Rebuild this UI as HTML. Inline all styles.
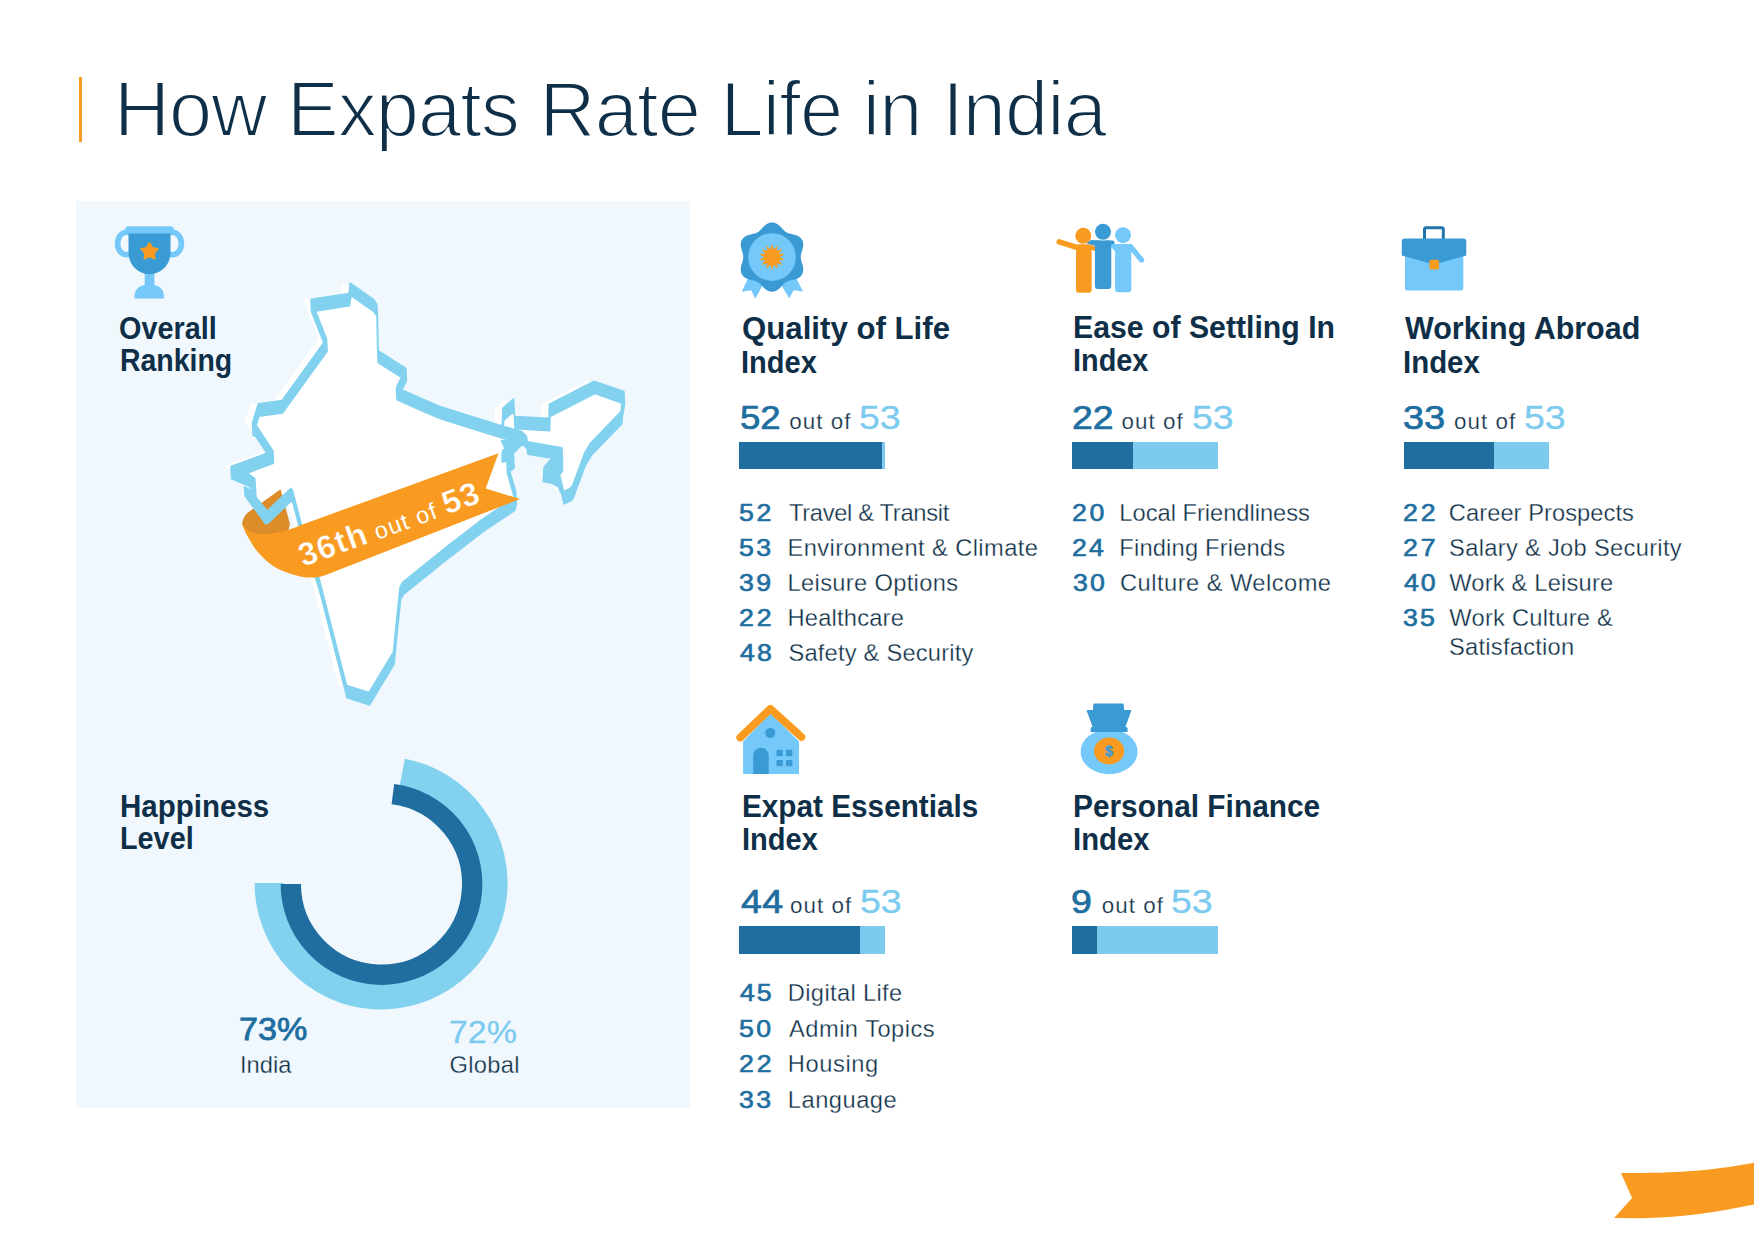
<!DOCTYPE html>
<html lang="en">
<head>
<meta charset="utf-8">
<title>How Expats Rate Life in India</title>
<style>
html,body{margin:0;padding:0;background:#fff}
body{position:relative;width:1754px;height:1240px;overflow:hidden;font-family:"Liberation Sans",sans-serif;color:#0e2f47}
h1,h2,p,ul,li{margin:0;padding:0;font-weight:normal;font-size:inherit;list-style:none}
.t{position:absolute;white-space:nowrap;line-height:1;display:block;transform-origin:0 0}
.abs{position:absolute}
svg{position:absolute;overflow:visible}
.panel{position:absolute;left:76px;top:200.5px;width:614px;height:907.5px;background:#f0f8fe}
.bar{position:absolute;background:#7ccbef}
.bar i{position:absolute;left:0;top:0;height:100%;background:#206ea0;display:block}
</style>
</head>
<body>
<header><div class="abs" style="left:79px;top:76.7px;width:2.8px;height:65px;background:#f99b20"></div><h1><span class="t" style="left:113.95px;top:71.00px;font-size:77.50px;letter-spacing:-0.850px;color:#0e2f47;-webkit-text-stroke:2.0px #fff;">How Expats Rate Life in India</span></h1></header>
<aside id="summary"><div class="panel"></div>
<section id="overall"><svg style="left:110px;top:220px" width="80" height="85" viewBox="110 220 80 85" aria-hidden="true"><ellipse cx="126.6" cy="243.5" rx="9" ry="11.3" fill="none" stroke="#74c8fa" stroke-width="5.6"/><ellipse cx="172.4" cy="243.5" rx="9" ry="11.3" fill="none" stroke="#74c8fa" stroke-width="5.6"/><rect x="144.7" y="270" width="9.7" height="18" fill="#74c8fa"/><path d="M134.5,298.4 L134.5,296.5 C134.5,288 141,284.4 149.3,284.4 C157.5,284.4 164,288 164,296.5 L164,298.4 Z" fill="#74c8fa"/><path d="M128.5,232 L170.5,232 L170.5,252 C170.5,267 158.5,274.2 149.5,274.2 C140.5,274.2 128.5,267 128.5,252 Z" fill="#3a9ad4"/><rect x="125.3" y="226.3" width="48.4" height="7.2" rx="3.2" fill="#74c8fa"/><polygon points="149.50,243.00 152.20,247.88 157.68,248.94 153.87,253.02 154.55,258.56 149.50,256.20 144.45,258.56 145.13,253.02 141.32,248.94 146.80,247.88" fill="#f99b20" stroke="#f99b20" stroke-width="2" stroke-linejoin="round"/></svg><h2><span class="t" style="left:119.40px;top:313.00px;font-size:31.40px;letter-spacing:0.000px;color:#0e2f47;font-weight:700;transform:scaleX(0.9176);">Overall</span><span class="t" style="left:120.02px;top:345.00px;font-size:31.40px;letter-spacing:0.000px;color:#0e2f47;font-weight:700;transform:scaleX(0.9058);">Ranking</span></h2><svg style="left:222px;top:276px" width="410" height="432" viewBox="222 276 410 432" aria-hidden="true"><polygon points="303.0,299.4 341.0,293.5 342.3,283.2 365.5,299.4 368.8,304.5 369.7,350.3 397.8,368.4 388.5,387.5 412.0,398.0 432.0,406.5 462.0,416.0 494.3,426.0 495.0,408.0 505.5,399.0 506.5,416.5 541.0,418.4 541.4,404.2 586.2,381.3 615.9,391.6 613.5,406.0 613.3,411.3 582.5,443.2 576.5,453.5 564.5,486.0 561.9,488.5 555.5,491.6 550.8,471.2 546.8,469.4 553.9,458.3 553.9,447.7 519.3,441.9 518.4,436.1 513.9,431.7 504.2,441.5 505.5,455.7 498.9,461.0 507.7,492.0 506.2,498.0 475.2,518.7 434.6,550.0 394.6,582.3 392.0,587.4 388.1,624.8 385.5,651.9 361.0,692.6 338.5,685.5 310.7,577.1 293.9,526.5 284.3,490.3 283.0,488.4 259.1,511.0 244.9,493.5 247.5,489.0 246.8,478.7 239.7,473.5 223.0,466.5 264.9,451.0 247.5,424.5 244.5,423.0 250.3,403.9 274.0,400.6 318.5,339.0" fill="#fff"/><polygon points="311.0,299.4 349.0,293.5 350.3,283.2 373.5,299.4 376.8,304.5 377.7,350.3 405.8,368.4 396.5,387.5 420.0,398.0 440.0,406.5 470.0,416.0 502.3,426.0 503.0,408.0 513.5,399.0 514.5,416.5 549.0,418.4 549.4,404.2 594.2,381.3 623.9,391.6 621.5,406.0 621.3,411.3 590.5,443.2 584.5,453.5 572.5,486.0 569.9,488.5 563.5,491.6 558.8,471.2 554.8,469.4 561.9,458.3 561.9,447.7 527.3,441.9 526.4,436.1 521.9,431.7 512.2,441.5 513.5,455.7 506.9,461.0 515.7,492.0 514.2,498.0 483.2,518.7 442.6,550.0 402.6,582.3 400.0,587.4 396.1,624.8 393.5,651.9 369.0,692.6 346.5,685.5 318.7,577.1 301.9,526.5 292.3,490.3 291.0,488.4 267.1,511.0 252.9,493.5 255.5,489.0 254.8,478.7 247.7,473.5 231.0,466.5 272.9,451.0 255.5,424.5 252.5,423.0 258.3,403.9 282.0,400.6 326.5,339.0" fill="#fff"/><path d="M242,523.8 C243,518 245,515 248,512.5 L280.5,489.3 L289.9,523.8 L288,533 C275,536.5 264,538 255.7,536 C249,534 244,529 242,523.8 Z" fill="#dc8c28"/><path d="M311.0,299.4L349.0,293.5L349.6,305.8L311.6,311.7ZM349.0,293.5L350.3,283.2L350.9,295.5L349.6,305.8ZM350.3,283.2L373.5,299.4L374.1,311.7L350.9,295.5ZM373.5,299.4L376.8,304.5L377.4,316.8L374.1,311.7ZM377.4,316.8L378.3,362.6L377.7,350.3L376.8,304.5ZM377.7,350.3L405.8,368.4L406.4,380.7L378.3,362.6ZM406.4,380.7L397.1,399.8L396.5,387.5L405.8,368.4ZM396.5,387.5L420.0,398.0L420.6,410.3L397.1,399.8ZM420.0,398.0L440.0,406.5L440.6,418.8L420.6,410.3ZM440.0,406.5L470.0,416.0L470.6,428.3L440.6,418.8ZM470.0,416.0L502.3,426.0L502.9,438.3L470.6,428.3ZM502.3,426.0L503.0,408.0L503.6,420.3L502.9,438.3ZM503.0,408.0L513.5,399.0L514.1,411.3L503.6,420.3ZM513.5,399.0L514.5,416.5L515.1,428.8L514.1,411.3ZM514.5,416.5L549.0,418.4L549.6,430.7L515.1,428.8ZM549.0,418.4L549.4,404.2L550.0,416.5L549.6,430.7ZM549.4,404.2L594.2,381.3L594.8,393.6L550.0,416.5ZM594.2,381.3L623.9,391.6L624.5,403.9L594.8,393.6ZM624.5,403.9L622.1,418.3L621.5,406.0L623.9,391.6ZM622.1,418.3L621.9,423.6L621.3,411.3L621.5,406.0ZM621.9,423.6L591.1,455.5L590.5,443.2L621.3,411.3ZM591.1,455.5L585.1,465.8L584.5,453.5L590.5,443.2ZM585.1,465.8L573.1,498.3L572.5,486.0L584.5,453.5ZM573.1,498.3L570.5,500.8L569.9,488.5L572.5,486.0ZM570.5,500.8L564.1,503.9L563.5,491.6L569.9,488.5ZM564.1,503.9L559.4,483.5L558.8,471.2L563.5,491.6ZM559.4,483.5L555.4,481.7L554.8,469.4L558.8,471.2ZM554.8,469.4L561.9,458.3L562.5,470.6L555.4,481.7ZM561.9,458.3L561.9,447.7L562.5,460.0L562.5,470.6ZM562.5,460.0L527.9,454.2L527.3,441.9L561.9,447.7ZM527.9,454.2L527.0,448.4L526.4,436.1L527.3,441.9ZM527.0,448.4L522.5,444.0L521.9,431.7L526.4,436.1ZM522.5,444.0L512.8,453.8L512.2,441.5L521.9,431.7ZM512.2,441.5L513.5,455.7L514.1,468.0L512.8,453.8ZM514.1,468.0L507.5,473.3L506.9,461.0L513.5,455.7ZM506.9,461.0L515.7,492.0L516.3,504.3L507.5,473.3ZM516.3,504.3L514.8,510.3L514.2,498.0L515.7,492.0ZM514.8,510.3L483.8,531.0L483.2,518.7L514.2,498.0ZM483.8,531.0L443.2,562.3L442.6,550.0L483.2,518.7ZM443.2,562.3L403.2,594.6L402.6,582.3L442.6,550.0ZM403.2,594.6L400.6,599.7L400.0,587.4L402.6,582.3ZM400.6,599.7L396.7,637.1L396.1,624.8L400.0,587.4ZM396.7,637.1L394.1,664.2L393.5,651.9L396.1,624.8ZM394.1,664.2L369.6,704.9L369.0,692.6L393.5,651.9ZM369.6,704.9L347.1,697.8L346.5,685.5L369.0,692.6ZM347.1,697.8L319.3,589.4L318.7,577.1L346.5,685.5ZM319.3,589.4L302.5,538.8L301.9,526.5L318.7,577.1ZM302.5,538.8L292.9,502.6L292.3,490.3L301.9,526.5ZM292.9,502.6L291.6,500.7L291.0,488.4L292.3,490.3ZM291.6,500.7L267.7,523.3L267.1,511.0L291.0,488.4ZM267.7,523.3L253.5,505.8L252.9,493.5L267.1,511.0ZM252.9,493.5L255.5,489.0L256.1,501.3L253.5,505.8ZM256.1,501.3L255.4,491.0L254.8,478.7L255.5,489.0ZM255.4,491.0L248.3,485.8L247.7,473.5L254.8,478.7ZM248.3,485.8L231.6,478.8L231.0,466.5L247.7,473.5ZM231.0,466.5L272.9,451.0L273.5,463.3L231.6,478.8ZM273.5,463.3L256.1,436.8L255.5,424.5L272.9,451.0ZM256.1,436.8L253.1,435.3L252.5,423.0L255.5,424.5ZM252.5,423.0L258.3,403.9L258.9,416.2L253.1,435.3ZM258.3,403.9L282.0,400.6L282.6,412.9L258.9,416.2ZM282.0,400.6L326.5,339.0L327.1,351.3L282.6,412.9ZM327.1,351.3L311.6,311.7L311.0,299.4L326.5,339.0ZM502.3,426L521.9,431.7L522.5,444.0L502.90000000000003,438.3ZM501.5,440.6L512.2,441.5L513.5,455.7L506.9,461L502,461.9L502.4,451.2L505.1,448.6ZM244.5,487.1L245.2,496.1L265.8,523.9L267.7,521.9L253.5,503.9L252.9,491ZM550.3,460.1L561.9,458.3L554.8,469.4L558.8,471.2L563.6,491.6L561,492.9L558.3,486.7L552.1,483.2L543.2,481.4L544.1,467.2Z" fill="#82d2ef" stroke="#82d2ef" stroke-width="1.6" stroke-linejoin="round" fill-rule="nonzero"/><path d="M242,523.8 C245,529 250,532.5 255.7,533.6 C266,535.5 278,533 286.4,530.6 C292,529 297,526.6 301.8,524.7 L498.5,453.3 L485.7,488.4 L519.9,499 L325.8,575.1 C316,578.6 307,578 298.4,576 C288,573.5 279,570 272.8,565.7 C264,559.5 257,552 252.2,544.3 C248,537.5 244,530.5 242,523.8 Z" fill="#f99b20"/><text transform="translate(303.2,567.0) rotate(-20)" font-family="Liberation Sans, sans-serif" fill="#fff" textLength="190" lengthAdjust="spacing"><tspan font-weight="700" font-size="32.5" stroke="#f99b20" stroke-width="0.45">36th</tspan><tspan font-size="23.5"> out of </tspan><tspan font-weight="700" font-size="32.5" stroke="#f99b20" stroke-width="0.45">53</tspan></text></svg></section>
<section id="happiness"><h2><span class="t" style="left:119.95px;top:791.00px;font-size:31.70px;letter-spacing:0.000px;color:#0e2f47;font-weight:700;transform:scaleX(0.9316);">Happiness</span><span class="t" style="left:120.00px;top:823.00px;font-size:31.70px;letter-spacing:0.000px;color:#0e2f47;font-weight:700;transform:scaleX(0.9092);">Level</span></h2><svg style="left:250px;top:750px" width="265" height="265" viewBox="250 750 265 265" aria-hidden="true"><path d="M269.10,883.00 A112.0,112.0 0 1 0 402.09,772.98" fill="none" stroke="#82d2ef" stroke-width="29.0"/><path d="M290.80,884.00 A90.7,90.7 0 1 0 392.87,794.02" fill="none" stroke="#206ea0" stroke-width="20.4"/></svg><p><span class="t" style="left:238.50px;top:1013.00px;font-size:32.00px;letter-spacing:0.000px;color:#206ea0;-webkit-text-stroke:0.8px #206ea0;transform:scaleX(1.0667);">73%</span><span class="t" style="left:240.05px;top:1054.00px;font-size:23.70px;letter-spacing:-0.028px;color:#0e2f47;-webkit-text-stroke:0.3px #f0f8fe;">India</span></p><p><span class="t" style="left:448.71px;top:1016.00px;font-size:32.00px;letter-spacing:0.000px;color:#7ccbef;-webkit-text-stroke:0.3px #7ccbef;transform:scaleX(1.0602);">72%</span><span class="t" style="left:449.55px;top:1054.00px;font-size:23.70px;letter-spacing:0.292px;color:#0e2f47;-webkit-text-stroke:0.3px #f0f8fe;">Global</span></p></section></aside>
<main>
<section id="qol"><svg style="left:735px;top:218px" width="75" height="85" viewBox="735 218 75 85" aria-hidden="true"><polygon points="749.2,276 741.7,291.7 751.2,290.2 755.2,298.7 764,283" fill="#74c8fa"/><polygon points="795.2,276 803,291.5 793.6,290.2 789.3,298.5 780,283" fill="#74c8fa"/><polygon points="800.70,257.10 800.81,255.59 801.11,254.04 801.57,252.42 802.10,250.70 802.62,248.90 803.03,247.02 803.24,245.11 803.18,243.22 802.79,241.41 802.05,239.75 800.98,238.28 799.61,237.04 798.01,236.04 796.25,235.27 794.42,234.68 792.59,234.23 790.84,233.83 789.21,233.42 787.71,232.91 786.35,232.25 785.10,231.40 783.91,230.36 782.73,229.15 781.51,227.83 780.20,226.48 778.78,225.19 777.23,224.05 775.57,223.16 773.81,222.59 772.00,222.40 770.19,222.59 768.43,223.16 766.77,224.05 765.22,225.19 763.80,226.48 762.49,227.83 761.27,229.15 760.09,230.36 758.90,231.40 757.65,232.25 756.29,232.91 754.79,233.42 753.16,233.83 751.41,234.23 749.58,234.68 747.75,235.27 745.99,236.04 744.39,237.04 743.02,238.28 741.95,239.75 741.21,241.41 740.82,243.22 740.76,245.11 740.97,247.02 741.38,248.90 741.90,250.70 742.43,252.42 742.89,254.04 743.19,255.59 743.30,257.10 743.19,258.61 742.89,260.16 742.43,261.78 741.90,263.50 741.38,265.30 740.97,267.18 740.76,269.09 740.82,270.98 741.21,272.79 741.95,274.45 743.02,275.92 744.39,277.16 745.99,278.16 747.75,278.93 749.58,279.52 751.41,279.97 753.16,280.37 754.79,280.78 756.29,281.29 757.65,281.95 758.90,282.80 760.09,283.84 761.27,285.05 762.49,286.37 763.80,287.72 765.22,289.01 766.77,290.15 768.43,291.04 770.19,291.61 772.00,291.80 773.81,291.61 775.57,291.04 777.23,290.15 778.78,289.01 780.20,287.72 781.51,286.37 782.73,285.05 783.91,283.84 785.10,282.80 786.35,281.95 787.71,281.29 789.21,280.78 790.84,280.37 792.59,279.97 794.42,279.52 796.25,278.93 798.01,278.16 799.61,277.16 800.98,275.92 802.05,274.45 802.79,272.79 803.18,270.98 803.24,269.09 803.03,267.18 802.62,265.30 802.10,263.50 801.57,261.78 801.11,260.16 800.81,258.61" fill="#3a9ad4"/><circle cx="772.0" cy="257.1" r="23.8" fill="#74c8fa"/><polygon points="772.00,243.90 773.74,249.50 777.73,245.21 776.86,251.00 782.32,248.87 779.03,253.72 784.87,254.16 779.80,257.10 784.87,260.04 779.03,260.48 782.32,265.33 776.86,263.20 777.73,268.99 773.74,264.70 772.00,270.30 770.26,264.70 766.27,268.99 767.14,263.20 761.68,265.33 764.97,260.48 759.13,260.04 764.20,257.10 759.13,254.16 764.97,253.72 761.68,248.87 767.14,251.00 766.27,245.21 770.26,249.50" fill="#f99b20"/></svg><h2><span class="t" style="left:741.52px;top:313.00px;font-size:31.10px;letter-spacing:0.000px;color:#0e2f47;font-weight:700;transform:scaleX(1.0034);">Quality of Life</span><span class="t" style="left:741.09px;top:347.00px;font-size:31.10px;letter-spacing:0.000px;color:#0e2f47;font-weight:700;transform:scaleX(0.9336);">Index</span></h2><p><span class="t" style="left:740.36px;top:402.00px;font-size:32.40px;letter-spacing:0.000px;color:#206ea0;-webkit-text-stroke:0.7px #206ea0;transform:scaleX(1.1272);">52</span><span class="t" style="left:789.18px;top:411.00px;font-size:22.40px;letter-spacing:1.046px;color:#0e2f47;-webkit-text-stroke:0.25px #fff;">out of</span><span class="t" style="left:858.83px;top:402.00px;font-size:32.40px;letter-spacing:0.000px;color:#7ccbef;-webkit-text-stroke:0.3px #7ccbef;transform:scaleX(1.1568);">53</span></p><div class="bar" style="left:739px;top:442px;width:146px;height:27px"><i style="width:143.2px"></i></div><ul><li><span class="t" style="left:739.36px;top:502.00px;font-size:23.00px;letter-spacing:2.271px;color:#206ea0;-webkit-text-stroke:0.6px #206ea0;transform:scaleX(1.1600);">52</span><span class="t" style="left:788.95px;top:502.00px;font-size:23.70px;letter-spacing:-0.314px;color:#0e2f47;-webkit-text-stroke:0.3px #fff;">Travel &amp; Transit</span></li><li><span class="t" style="left:739.36px;top:537.00px;font-size:23.00px;letter-spacing:2.171px;color:#206ea0;-webkit-text-stroke:0.6px #206ea0;transform:scaleX(1.1600);">53</span><span class="t" style="left:787.55px;top:537.00px;font-size:23.70px;letter-spacing:0.406px;color:#0e2f47;-webkit-text-stroke:0.3px #fff;">Environment &amp; Climate</span></li><li><span class="t" style="left:739.47px;top:572.00px;font-size:23.00px;letter-spacing:2.071px;color:#206ea0;-webkit-text-stroke:0.6px #206ea0;transform:scaleX(1.1600);">39</span><span class="t" style="left:787.55px;top:572.00px;font-size:23.70px;letter-spacing:0.326px;color:#0e2f47;-webkit-text-stroke:0.3px #fff;">Leisure Options</span></li><li><span class="t" style="left:739.12px;top:607.00px;font-size:23.00px;letter-spacing:2.471px;color:#206ea0;-webkit-text-stroke:0.6px #206ea0;transform:scaleX(1.1600);">22</span><span class="t" style="left:787.55px;top:607.00px;font-size:23.70px;letter-spacing:0.197px;color:#0e2f47;-webkit-text-stroke:0.3px #fff;">Healthcare</span></li><li><span class="t" style="left:739.82px;top:642.00px;font-size:23.00px;letter-spacing:1.771px;color:#206ea0;-webkit-text-stroke:0.6px #206ea0;transform:scaleX(1.1600);">48</span><span class="t" style="left:788.45px;top:642.00px;font-size:23.70px;letter-spacing:0.205px;color:#0e2f47;-webkit-text-stroke:0.3px #fff;">Safety &amp; Security</span></li></ul></section>
<section id="ease"><svg style="left:1052px;top:220px" width="95" height="78" viewBox="1052 220 95 78" aria-hidden="true"><g fill="#f99b20" stroke="#f99b20"><circle cx="1083.3" cy="235.8" r="8" stroke="none"/><rect x="1076" y="244.3" width="15.6" height="48.4" rx="3" stroke="none"/><polygon points="1090,244.3 1095.5,246.4 1095.5,251 1090,249.4" stroke="none"/><path d="M1080,248.3 L1059.2,241.8" fill="none" stroke-width="5.4" stroke-linecap="round"/></g><g fill="#3a9ad4"><circle cx="1103" cy="231.8" r="8"/><polygon points="1086.4,243.2 1091.2,239.9 1101,240.4 1096,246"/><rect x="1094.9" y="240.4" width="16.4" height="48.6" rx="3"/><rect x="1104" y="240.4" width="10.5" height="6" rx="2"/></g><g fill="#74c8fa" stroke="#74c8fa"><circle cx="1123" cy="235.2" r="8" stroke="none"/><rect x="1115.1" y="244" width="16.2" height="48.3" rx="3" stroke="none"/><polygon points="1111.3,244.1 1117,244.1 1117,253 1111.3,247.4" stroke="none"/><path d="M1130.3,246.4 L1141.6,260" fill="none" stroke-width="5.2" stroke-linecap="round"/></g></svg><h2><span class="t" style="left:1072.71px;top:312.00px;font-size:31.10px;letter-spacing:0.000px;color:#0e2f47;font-weight:700;transform:scaleX(0.9721);">Ease of Settling In</span><span class="t" style="left:1073.20px;top:345.00px;font-size:31.10px;letter-spacing:0.000px;color:#0e2f47;font-weight:700;transform:scaleX(0.9285);">Index</span></h2><p><span class="t" style="left:1072.05px;top:402.00px;font-size:32.40px;letter-spacing:0.000px;color:#206ea0;-webkit-text-stroke:0.7px #206ea0;transform:scaleX(1.1534);">22</span><span class="t" style="left:1121.57px;top:411.00px;font-size:22.40px;letter-spacing:1.046px;color:#0e2f47;-webkit-text-stroke:0.25px #fff;">out of</span><span class="t" style="left:1192.33px;top:402.00px;font-size:32.40px;letter-spacing:0.000px;color:#7ccbef;-webkit-text-stroke:0.3px #7ccbef;transform:scaleX(1.1568);">53</span></p><div class="bar" style="left:1072px;top:442px;width:146px;height:27px"><i style="width:60.6px"></i></div><ul><li><span class="t" style="left:1072.22px;top:502.00px;font-size:23.00px;letter-spacing:2.271px;color:#206ea0;-webkit-text-stroke:0.6px #206ea0;transform:scaleX(1.1600);">20</span><span class="t" style="left:1119.35px;top:502.00px;font-size:23.70px;letter-spacing:-0.021px;color:#0e2f47;-webkit-text-stroke:0.3px #fff;">Local Friendliness</span></li><li><span class="t" style="left:1072.22px;top:537.00px;font-size:23.00px;letter-spacing:1.971px;color:#206ea0;-webkit-text-stroke:0.6px #206ea0;transform:scaleX(1.1600);">24</span><span class="t" style="left:1119.35px;top:537.00px;font-size:23.70px;letter-spacing:0.172px;color:#0e2f47;-webkit-text-stroke:0.3px #fff;">Finding Friends</span></li><li><span class="t" style="left:1072.57px;top:572.00px;font-size:23.00px;letter-spacing:1.971px;color:#206ea0;-webkit-text-stroke:0.6px #206ea0;transform:scaleX(1.1600);">30</span><span class="t" style="left:1120.05px;top:572.00px;font-size:23.70px;letter-spacing:0.460px;color:#0e2f47;-webkit-text-stroke:0.3px #fff;">Culture &amp; Welcome</span></li></ul></section>
<section id="work"><svg style="left:1398px;top:222px" width="72" height="72" viewBox="1398 222 72 72" aria-hidden="true"><rect x="1424.5" y="227.7" width="18.8" height="14" rx="1.5" fill="none" stroke="#2273a8" stroke-width="3"/><rect x="1405" y="248" width="58.3" height="42.6" rx="2" fill="#74c8fa"/><path d="M1401.8,241.4 Q1401.8,238.6 1404.6,238.6 L1463.5,238.6 Q1466.3,238.6 1466.3,241.4 L1466.3,255.6 L1434.2,264.6 L1401.8,255.6 Z" fill="#3a9ad4"/><rect x="1429.4" y="259.8" width="9.7" height="9.7" rx="2" fill="#f99b20"/></svg><h2><span class="t" style="left:1404.60px;top:313.00px;font-size:31.10px;letter-spacing:0.000px;color:#0e2f47;font-weight:700;transform:scaleX(0.9798);">Working Abroad</span><span class="t" style="left:1403.36px;top:347.00px;font-size:31.10px;letter-spacing:0.000px;color:#0e2f47;font-weight:700;transform:scaleX(0.9461);">Index</span></h2><p><span class="t" style="left:1403.43px;top:402.00px;font-size:32.40px;letter-spacing:0.339px;color:#206ea0;-webkit-text-stroke:0.7px #206ea0;transform:scaleX(1.1600);">33</span><span class="t" style="left:1453.97px;top:411.00px;font-size:22.40px;letter-spacing:1.046px;color:#0e2f47;-webkit-text-stroke:0.25px #fff;">out of</span><span class="t" style="left:1523.73px;top:402.00px;font-size:32.40px;letter-spacing:0.000px;color:#7ccbef;-webkit-text-stroke:0.3px #7ccbef;transform:scaleX(1.1568);">53</span></p><div class="bar" style="left:1404px;top:442px;width:145px;height:27px"><i style="width:90.3px"></i></div><ul><li><span class="t" style="left:1403.02px;top:502.00px;font-size:23.00px;letter-spacing:2.471px;color:#206ea0;-webkit-text-stroke:0.6px #206ea0;transform:scaleX(1.1600);">22</span><span class="t" style="left:1448.85px;top:502.00px;font-size:23.70px;letter-spacing:0.050px;color:#0e2f47;-webkit-text-stroke:0.3px #fff;">Career Prospects</span></li><li><span class="t" style="left:1403.02px;top:537.00px;font-size:23.00px;letter-spacing:2.471px;color:#206ea0;-webkit-text-stroke:0.6px #206ea0;transform:scaleX(1.1600);">27</span><span class="t" style="left:1449.05px;top:537.00px;font-size:23.70px;letter-spacing:0.309px;color:#0e2f47;-webkit-text-stroke:0.3px #fff;">Salary &amp; Job Security</span></li><li><span class="t" style="left:1403.72px;top:572.00px;font-size:23.00px;letter-spacing:1.671px;color:#206ea0;-webkit-text-stroke:0.6px #206ea0;transform:scaleX(1.1600);">40</span><span class="t" style="left:1449.25px;top:572.00px;font-size:23.70px;letter-spacing:0.185px;color:#0e2f47;-webkit-text-stroke:0.3px #fff;">Work &amp; Leisure</span></li><li><span class="t" style="left:1403.37px;top:607.00px;font-size:23.00px;letter-spacing:1.971px;color:#206ea0;-webkit-text-stroke:0.6px #206ea0;transform:scaleX(1.1600);">35</span><span class="t" style="left:1449.25px;top:607.00px;font-size:23.70px;letter-spacing:0.267px;color:#0e2f47;-webkit-text-stroke:0.3px #fff;">Work Culture &amp;</span></li><li><span class="t" style="left:1449.05px;top:636.00px;font-size:23.70px;letter-spacing:0.242px;color:#0e2f47;-webkit-text-stroke:0.3px #fff;">Satisfaction</span></li></ul></section>
<section id="ess"><svg style="left:732px;top:700px" width="80" height="78" viewBox="732 700 80 78" aria-hidden="true"><polygon points="770.3,713 799,741.5 799,774 743.1,774 743.1,741.5" fill="#74c8fa"/><circle cx="770.3" cy="732.9" r="5" fill="#3a9ad4"/><path d="M753.2,774 L753.2,755.5 a7.75,7.75 0 0 1 15.5,0 L768.7,774 Z" fill="#3a9ad4"/><rect x="776.4" y="749.8" width="6.4" height="6.4" rx="1.2" fill="#3a9ad4"/><rect x="786.0" y="749.8" width="6.4" height="6.4" rx="1.2" fill="#3a9ad4"/><rect x="776.4" y="759.9" width="6.4" height="6.4" rx="1.2" fill="#3a9ad4"/><rect x="786.0" y="759.9" width="6.4" height="6.4" rx="1.2" fill="#3a9ad4"/><polyline points="740.2,737.6 770.4,708.8 801.4,736.8" fill="none" stroke="#f99b20" stroke-width="7.8" stroke-linecap="round" stroke-linejoin="round"/></svg><h2><span class="t" style="left:741.84px;top:791.00px;font-size:31.10px;letter-spacing:0.000px;color:#0e2f47;font-weight:700;transform:scaleX(0.9562);">Expat Essentials</span><span class="t" style="left:741.89px;top:824.00px;font-size:31.10px;letter-spacing:0.000px;color:#0e2f47;font-weight:700;transform:scaleX(0.9336);">Index</span></h2><p><span class="t" style="left:740.51px;top:886.00px;font-size:32.40px;letter-spacing:0.361px;color:#206ea0;-webkit-text-stroke:0.7px #206ea0;transform:scaleX(1.1600);">44</span><span class="t" style="left:790.08px;top:895.00px;font-size:22.40px;letter-spacing:1.046px;color:#0e2f47;-webkit-text-stroke:0.25px #fff;">out of</span><span class="t" style="left:860.23px;top:886.00px;font-size:32.40px;letter-spacing:0.000px;color:#7ccbef;-webkit-text-stroke:0.3px #7ccbef;transform:scaleX(1.1568);">53</span></p><div class="bar" style="left:739px;top:926px;width:146px;height:27.6px"><i style="width:121.2px"></i></div><ul><li><span class="t" style="left:739.82px;top:982.00px;font-size:23.00px;letter-spacing:1.671px;color:#206ea0;-webkit-text-stroke:0.6px #206ea0;transform:scaleX(1.1600);">45</span><span class="t" style="left:787.85px;top:982.00px;font-size:23.70px;letter-spacing:0.330px;color:#0e2f47;-webkit-text-stroke:0.3px #fff;">Digital Life</span></li><li><span class="t" style="left:739.36px;top:1018.00px;font-size:23.00px;letter-spacing:2.071px;color:#206ea0;-webkit-text-stroke:0.6px #206ea0;transform:scaleX(1.1600);">50</span><span class="t" style="left:789.05px;top:1018.00px;font-size:23.70px;letter-spacing:0.465px;color:#0e2f47;-webkit-text-stroke:0.3px #fff;">Admin Topics</span></li><li><span class="t" style="left:739.12px;top:1053.00px;font-size:23.00px;letter-spacing:2.471px;color:#206ea0;-webkit-text-stroke:0.6px #206ea0;transform:scaleX(1.1600);">22</span><span class="t" style="left:787.85px;top:1053.00px;font-size:23.70px;letter-spacing:0.588px;color:#0e2f47;-webkit-text-stroke:0.3px #fff;">Housing</span></li><li><span class="t" style="left:739.47px;top:1089.00px;font-size:23.00px;letter-spacing:2.071px;color:#206ea0;-webkit-text-stroke:0.6px #206ea0;transform:scaleX(1.1600);">33</span><span class="t" style="left:787.85px;top:1089.00px;font-size:23.70px;letter-spacing:0.491px;color:#0e2f47;-webkit-text-stroke:0.3px #fff;">Language</span></li></ul></section>
<section id="fin"><svg style="left:1078px;top:700px" width="64" height="78" viewBox="1078 700 64 78" aria-hidden="true"><ellipse cx="1109.1" cy="751.7" rx="28.5" ry="22.5" fill="#74c8fa"/><polygon points="1094,704.1 1123,704.1 1123.6,710.3 1130.6,710.7 1124.8,727.1 1127,728 1127,731.5 1091.3,731.5 1091.3,728 1093.3,727.1 1087.3,710.7 1093.6,710.3" fill="#3a9ad4" stroke="#3a9ad4" stroke-width="1.2" stroke-linejoin="round"/><ellipse cx="1109.1" cy="751" rx="15.1" ry="13.5" fill="#f99b20"/><text x="1109.1" y="756.2" text-anchor="middle" font-family="Liberation Sans, sans-serif" font-weight="700" font-size="14.5" fill="#3a9ad4" stroke="#3a9ad4" stroke-width="0.5">$</text></svg><h2><span class="t" style="left:1072.73px;top:791.00px;font-size:31.10px;letter-spacing:0.000px;color:#0e2f47;font-weight:700;transform:scaleX(0.9599);">Personal Finance</span><span class="t" style="left:1073.17px;top:824.00px;font-size:31.10px;letter-spacing:0.000px;color:#0e2f47;font-weight:700;transform:scaleX(0.9411);">Index</span></h2><p><span class="t" style="left:1071.44px;top:886.00px;font-size:32.40px;letter-spacing:0.000px;color:#206ea0;-webkit-text-stroke:0.7px #206ea0;transform:scaleX(1.1600);">9</span><span class="t" style="left:1101.77px;top:895.00px;font-size:22.40px;letter-spacing:1.046px;color:#0e2f47;-webkit-text-stroke:0.25px #fff;">out of</span><span class="t" style="left:1171.13px;top:886.00px;font-size:32.40px;letter-spacing:0.000px;color:#7ccbef;-webkit-text-stroke:0.3px #7ccbef;transform:scaleX(1.1568);">53</span></p><div class="bar" style="left:1072px;top:926px;width:146px;height:27.6px"><i style="width:24.8px"></i></div></section>
</main>
<svg style="left:1610px;top:1158px" width="144" height="66" viewBox="1610 1158 144 66" aria-hidden="true"><path d="M1621,1173 C1680,1173.6 1715,1170 1754,1162.8 L1754,1204.6 C1715,1212.6 1680,1218 1640,1218.3 L1614.1,1218.1 L1632.1,1198.1 Z" fill="#f99b20"/></svg>
</body>
</html>
